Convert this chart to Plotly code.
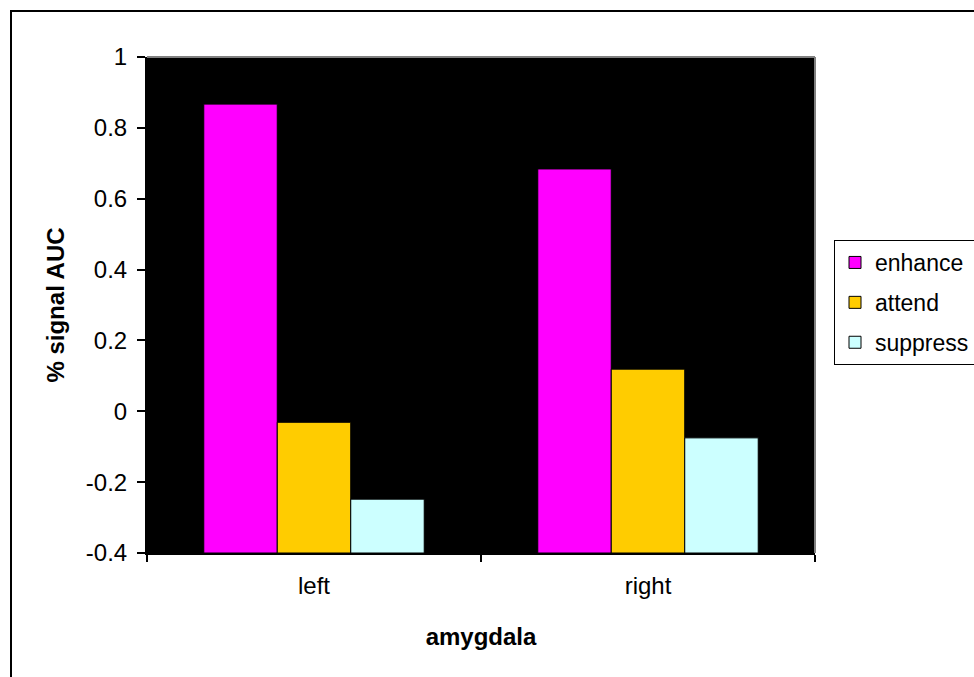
import plotly.graph_objects as go

# Mean % signal AUC in the amygdala per regulation condition
categories = ["left", "right"]
enhance = [0.867, 0.684]
attend = [-0.031, 0.119]
suppress = [-0.248, -0.075]

series_names = ["enhance", "attend", "suppress"]
series_values = [enhance, attend, suppress]
series_colors = ["#FF00FF", "#FFCC00", "#CCFFFF"]

y_ticks = [-0.4, -0.2, 0, 0.2, 0.4, 0.6, 0.8, 1]
y_tick_text = ["-0.4", "-0.2", "0", "0.2", "0.4", "0.6", "0.8", "1"]

# Bars rise from the category axis, which crosses at the bottom of the value range
BASE = y_ticks[0]

FONT = "Liberation Sans, Arial, sans-serif"
FS = 24

fig = go.Figure()
for name, vals, col in zip(series_names, series_values, series_colors):
    fig.add_trace(go.Bar(
        x=categories,
        y=[v - BASE for v in vals],
        base=BASE,
        name=name,
        legendgroup=name,
        marker=dict(color=col, line=dict(color="#000000", width=1)),
    ))

W, H = 974, 677
L, R, T, B = 147, 815, 57, 553
pw, ph = R - L, B - T

def px(x):
    return (x - L) / pw

def py(y):
    return (B - y) / ph

fig.update_layout(
    width=W, height=H,
    margin=dict(l=L, r=W - R, t=T, b=H - B, autoexpand=False),
    paper_bgcolor="#FFFFFF",
    plot_bgcolor="#000000",
    barmode="group",
    bargap=0.34,
    bargroupgap=0,
    font=dict(family=FONT, size=FS, color="#000000"),
    showlegend=True,
    legend=dict(
        xref="container", yref="container",
        x=834 / W, y=1 - 240 / H, xanchor="left", yanchor="top",
        bgcolor="#FFFFFF", bordercolor="#000000", borderwidth=1,
        font=dict(family=FONT, size=23, color="#000000"),
        tracegroupgap=7,
    ),
    xaxis=dict(
        type="category",
        range=[-0.5, 1.5],
        showgrid=False, zeroline=False,
        showline=True, linecolor="#000000", linewidth=2,
        ticks="outside", tickson="boundaries", ticklen=7, tickwidth=2, tickcolor="#000000",
        ticklabelstandoff=10,
        tickfont=dict(family=FONT, size=FS),
        title=dict(text="<b>amygdala</b>", font=dict(family=FONT, size=FS), standoff=30),
    ),
    yaxis=dict(
        range=[-0.4, 1.0],
        tickvals=y_ticks, ticktext=y_tick_text,
        showgrid=False, zeroline=False,
        showline=True, linecolor="#000000", linewidth=2,
        ticks="outside", ticklen=8, tickwidth=2, tickcolor="#000000",
        ticklabelstandoff=5,
        tickfont=dict(family=FONT, size=FS),
        title=dict(text="<b>% signal AUC</b>", font=dict(family=FONT, size=FS), standoff=14),
    ),
    shapes=[
        # grey frame on the top and right of the plotting area
        dict(type="line", xref="paper", yref="paper", x0=0, x1=1, y0=1, y1=1,
             line=dict(color="#808080", width=2), layer="above"),
        dict(type="line", xref="paper", yref="paper", x0=1, x1=1, y0=0, y1=1,
             line=dict(color="#808080", width=2), layer="above"),
        # outer chart border
        dict(type="rect", xref="paper", yref="paper",
             x0=px(11), x1=px(1000), y0=py(700), y1=py(11),
             line=dict(color="#000000", width=2), fillcolor="rgba(0,0,0,0)", layer="below"),
    ],
)

fig.write_html("out.html")
